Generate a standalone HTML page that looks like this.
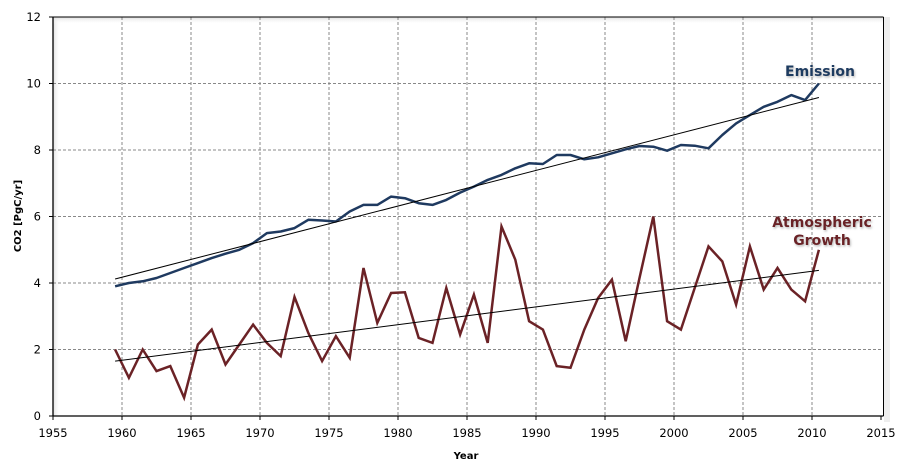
<!DOCTYPE html>
<html><head><meta charset="utf-8"><style>
body{margin:0;background:#fff;}
svg{display:block;font-family:"DejaVu Sans","Liberation Sans",sans-serif;}
</style></head><body>
<svg id="s" width="904" height="470" viewBox="0 0 904 470">
<defs>
<linearGradient id="gl" x1="0" x2="1"><stop offset="0" stop-color="#ddd"/><stop offset="1" stop-color="#fff" stop-opacity="0"/></linearGradient>
<linearGradient id="gt" x1="0" y1="0" x2="0" y2="1"><stop offset="0" stop-color="#ddd"/><stop offset="1" stop-color="#fff" stop-opacity="0"/></linearGradient>
<filter id="sh" x="-20%" y="-20%" width="140%" height="140%"><feDropShadow dx="1" dy="1.5" stdDeviation="1" flood-color="#888" flood-opacity="0.6"/></filter>
</defs>
<rect x="53" y="17" width="7" height="399" fill="url(#gl)"/>
<rect x="53" y="17" width="830" height="7" fill="url(#gt)"/>
<rect x="884" y="17" width="6" height="405" fill="#eee"/>
<g id="grid" stroke="#888" stroke-dasharray="3,2" stroke-width="1"></g>
<g id="lab" font-size="11.5" fill="#000"></g>
<line x1="53" y1="17" x2="883.5" y2="17" stroke="#000"/>
<line x1="883.5" y1="17" x2="883.5" y2="416" stroke="#000"/>
<line x1="53" y1="17" x2="53" y2="416" stroke="#000" stroke-width="1.3"/>
<line x1="53" y1="416" x2="883.5" y2="416" stroke="#000" stroke-width="1.3"/>
<polyline id="em" fill="none" stroke="#1f3a60" stroke-width="2.5" stroke-linejoin="round"/>
<polyline id="at" fill="none" stroke="#6b2226" stroke-width="2.5" stroke-linejoin="miter"/>
<line id="t1" stroke="#000" stroke-width="1"/>
<line id="t2" stroke="#000" stroke-width="1"/>
<text x="820" y="76" font-size="14" font-weight="bold" fill="#1f3a60" text-anchor="middle" filter="url(#sh)">Emission</text>
<text x="822" y="227" font-size="14" font-weight="bold" fill="#6b2226" text-anchor="middle" filter="url(#sh)">Atmospheric</text>
<text x="822" y="245" font-size="14" font-weight="bold" fill="#6b2226" text-anchor="middle" filter="url(#sh)">Growth</text>
<text x="466" y="459" font-size="10" font-weight="bold" text-anchor="middle">Year</text>
<text transform="translate(21,216) rotate(-90)" font-size="10" font-weight="bold" text-anchor="middle">CO2 [PgC/yr]</text>
</svg>
<script>
var ns="http://www.w3.org/2000/svg";
function X(y){return 53+(y-1955)*13.8;}
function Y(v){return 416-v*33.25;}
function el(p,t,a,txt){var e=document.createElementNS(ns,t);for(var k in a)e.setAttribute(k,a[k]);if(txt!=null)e.textContent=txt;document.getElementById(p).appendChild(e);return e;}
for(var y=1960;y<=2010;y+=5)el('grid','line',{x1:X(y),y1:17,x2:X(y),y2:416});
for(var v=2;v<=10;v+=2)el('grid','line',{x1:53,y1:Y(v),x2:883,y2:Y(v)});
for(var y=1955;y<=2015;y+=5){el('lab','text',{x:X(y),y:437,'text-anchor':'middle'},y);el('lab','line',{x1:X(y),y1:416,x2:X(y),y2:420,stroke:'#000'});}
for(var v=0;v<=12;v+=2){el('lab','text',{x:41,y:Y(v)+4,'text-anchor':'end'},v);el('lab','line',{x1:49,y1:Y(v),x2:53,y2:Y(v),stroke:'#000'});}
var em=[3.9,4.0,4.05,4.15,4.3,4.45,4.6,4.75,4.88,5.0,5.2,5.5,5.55,5.65,5.9,5.88,5.85,6.15,6.35,6.35,6.6,6.55,6.4,6.35,6.5,6.72,6.9,7.1,7.25,7.45,7.6,7.58,7.85,7.85,7.72,7.78,7.9,8.02,8.12,8.1,7.98,8.15,8.13,8.05,8.45,8.8,9.05,9.3,9.45,9.65,9.5,10.0];
var at=[2.0,1.15,2.0,1.35,1.5,0.55,2.15,2.6,1.55,2.15,2.75,2.2,1.8,3.58,2.5,1.65,2.4,1.75,4.45,2.8,3.7,3.72,2.35,2.2,3.85,2.45,3.65,2.2,5.7,4.7,2.85,2.6,1.5,1.45,2.6,3.55,4.1,2.25,4.15,6.0,2.85,2.6,3.85,5.1,4.65,3.35,5.1,3.8,4.45,3.8,3.45,5.0];
function pts(a){return a.map(function(v,i){return X(1959.5+i).toFixed(1)+','+Y(v).toFixed(1);}).join(' ');}
document.getElementById('em').setAttribute('points',pts(em));
document.getElementById('at').setAttribute('points',pts(at));
function tl(id,a,b){var e=document.getElementById(id);e.setAttribute('x1',X(1959.5));e.setAttribute('y1',Y(a));e.setAttribute('x2',X(2010.5));e.setAttribute('y2',Y(b));}
tl('t1',4.12,9.58);tl('t2',1.65,4.38);
</script>
</body></html>
